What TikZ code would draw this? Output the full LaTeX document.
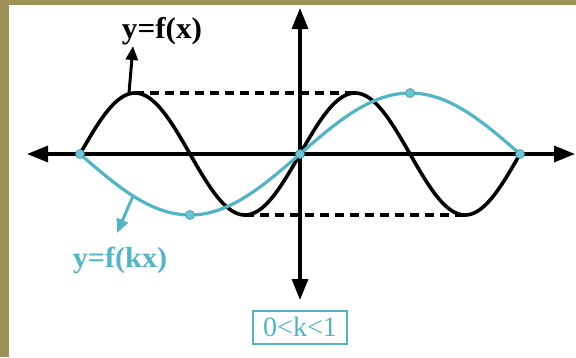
\documentclass[tikz,border=0pt]{standalone}
\usepackage{fontspec}
\setmainfont{Liberation Serif}
\definecolor{frameolive}{HTML}{9D9359}
\definecolor{curveteal}{HTML}{52B5C6}
\definecolor{dotteal}{HTML}{6CC6D6}
\usetikzlibrary{arrows.meta,positioning,calc}
\newcommand{\wtext}[1]{\scalebox{1.04}[1]{#1}}

\begin{document}
\begin{tikzpicture}[x=1pt,y=-1pt,
  axis/.style={line width=3.2pt, {Triangle[length=21pt,width=16pt]}-{Triangle[length=21pt,width=16pt]}},
  fcurve/.style={line width=3.6pt, black},
  kcurve/.style={line width=3.2pt, curveteal},
  guide/.style={line width=3.2pt, dashed, dash pattern=on 9pt off 6pt},
  dot/.style={circle, fill=dotteal, draw=curveteal!80!black, line width=0.6pt, inner sep=0pt, minimum size=9pt},
  lbl/.style={font=\fontsize{30}{32}\selectfont\bfseries, inner sep=0pt},
  lblarrow/.style={line width=3pt, -{Triangle[length=14pt,width=12pt]}}]
\useasboundingbox (0,0) rectangle (576,357);
\fill[frameolive] (0,0) rectangle (9,357);
\fill[frameolive] (0,0) rectangle (576,5);
% axes
\coordinate (xl) at (27,154);
\coordinate (xr) at (575,154);
\coordinate (yt) at (300,8);
\coordinate (yb) at (300,300);
\draw[axis] (xl) -- (xr);
\draw[axis] (yt) -- (yb);
% dashed guides
\coordinate (pk1) at (135,93);
\coordinate (pk2) at (355,93);
\coordinate (tr1) at (245,215);
\coordinate (tr2) at (465,215);
\draw[guide] (pk1) -- (pk2);
\draw[guide] (tr1) -- (tr2);
% curves
\draw[fcurve] plot[domain=80:520, samples=221, smooth] (\x,{154-61*sin(360/220*(\x-80))});
\draw[kcurve] plot[domain=80:520, samples=221, smooth] (\x,{154+61*sin(360/440*(\x-80))});
\foreach \px/\py [count=\i] in {80/154, 190/215, 300/154, 410/93, 520/154}
  \node[dot] (d\i) at (\px,\py) {};
% labels
\node[lbl] (fx) at (162,31) {\wtext{y=f(x)}};
\coordinate (fxfoot) at (129,93);
\coordinate (fxtip) at (133,46);
\draw[lblarrow] (fxfoot) -- (fxtip);
\node[lbl, text=curveteal, font=\fontsize{29}{32}\selectfont\bfseries] (fkx) at (120,260) {\wtext{y=f(kx)}};
\coordinate (fkxfoot) at (133,196);
\coordinate (fkxtip) at (117,233);
\draw[lblarrow, curveteal] (fkxfoot) -- (fkxtip);
\node[draw=curveteal, line width=2pt, text=curveteal, minimum width=94pt, minimum height=33pt,
  font=\fontsize{28}{30}\selectfont, inner sep=0pt] (krange) at (300,327) {0<k<1};
\end{tikzpicture}
\end{document}
